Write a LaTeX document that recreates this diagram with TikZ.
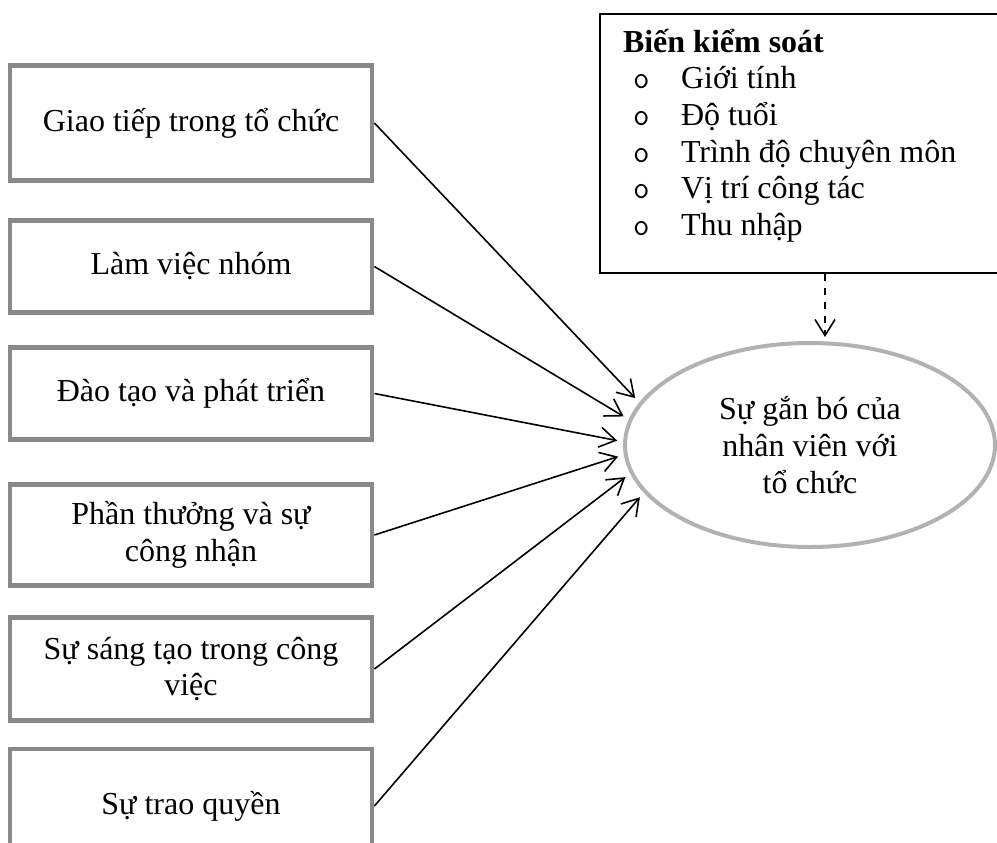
\documentclass[tikz,border=0pt]{standalone}
\usepackage{fontspec}
\setmainfont{Liberation Serif}
\usepackage{tikz}
\usetikzlibrary{arrows.meta, positioning, calc, shapes}
\usepackage{xcolor}
\definecolor{boxgray}{RGB}{137,137,137}
\definecolor{ovalgray}{RGB}{178,178,178}
\newcommand{\ringitem}{\hspace*{16.5pt}\makebox[24pt][l]{\ttfamily o}}

\begin{document}
\begin{tikzpicture}[x=0.5pt, y=-0.5pt, >={Straight Barb[length=8pt,width=10pt]},
  txt/.style={font=\fontsize{16}{18.3}\selectfont},
  factor/.style={txt, draw=boxgray, line width=2.4pt, minimum width=181pt, align=center, inner sep=2pt},
  link/.style={->, line width=0.8pt, shorten >=3pt}]
  \useasboundingbox (0,0) rectangle (997,842);

  % independent factors
  \node[factor, minimum height=57.5pt] (gt) at (191,123) {Giao tiếp trong tổ chức};
  \node[factor, minimum height=46pt] (lv) at (191,266.5) {Làm việc nhóm};
  \node[factor, minimum height=46pt] (dt) at (191,393.5) {Đào tạo và phát triển};
  \node[factor, minimum height=50.5pt] (pt) at (191,535) {Phần thưởng và sự\\công nhận};
  \node[factor, minimum height=51.5pt] (st) at (191,669) {Sự sáng tạo trong công\\việc};
  \node[factor, minimum height=57pt] (tq) at (191,806) {Sự trao quyền};

  % dependent variable
  \node[txt, ellipse, draw=ovalgray, line width=2pt, minimum width=185pt, minimum height=102pt, align=center]
    (sgb) at (810,445) {Sự gắn bó của\\nhân viên với\\tổ chức};

  % control variables
  \node[txt, draw, line width=1pt, inner sep=0pt, anchor=north west] (ctrl) at (599,13) {%
    \begin{minipage}[t][129.5pt][t]{203pt}
      \vspace*{7.5pt}
      \hspace*{11.5pt}\textbf{Biến kiểm soát}\\
      \ringitem Giới tính\\
      \ringitem Độ tuổi\\
      \ringitem Trình độ chuyên môn\\
      \ringitem Vị trí công tác\\
      \ringitem Thu nhập
    \end{minipage}};

  \foreach \src/\ang in {gt/166, lv/172, dt/179, pt/183, st/189, tq/196}
    \draw[link] (\src.east) -- (sgb.\ang);

  \coordinate (dsh) at ([xshift=113pt]ctrl.south west);
  \draw[->, line width=0.8pt, dash pattern=on 3.5pt off 3.5pt, shorten >=2pt] (dsh) -- (dsh |- sgb.north);
\end{tikzpicture}
\end{document}
